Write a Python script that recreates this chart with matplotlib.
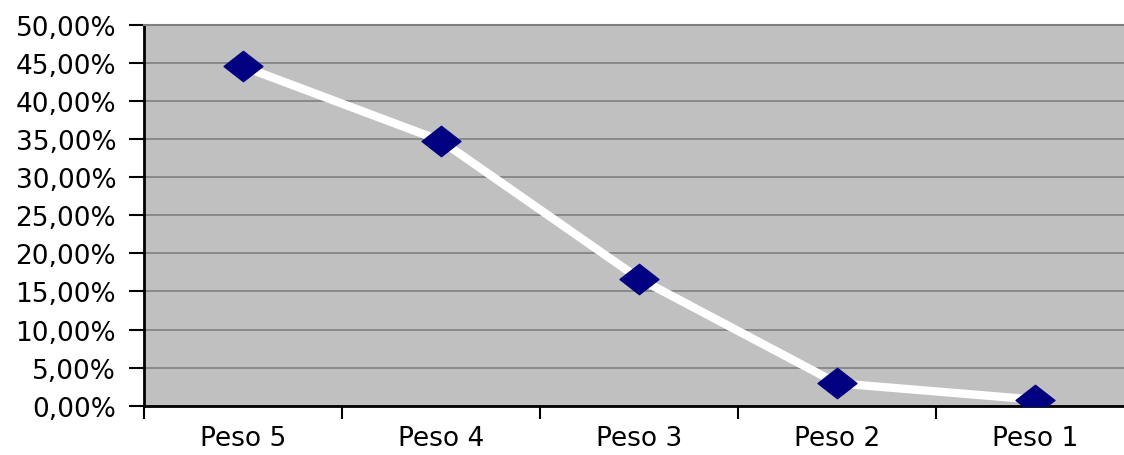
import matplotlib
matplotlib.use("Agg")
import matplotlib.pyplot as plt
from matplotlib.path import Path
from matplotlib.ticker import FixedLocator, FuncFormatter

categories = ["Peso 5", "Peso 4", "Peso 3", "Peso 2", "Peso 1"]
values = [44.55, 34.8, 16.7, 2.95, 0.8]  # percent
y_ticks = [0, 5, 10, 15, 20, 25, 30, 35, 40, 45, 50]

plt.rcParams["font.family"] = ["DejaVu Sans"]

fig = plt.figure(figsize=(11.24, 4.56), dpi=100)
ax = fig.add_axes([144 / 1124, (456 - 406.7) / 456, 990 / 1124, (406.7 - 26) / 456])
ax.set_facecolor("#C0C0C0")

x = list(range(len(categories)))

# flattened diamond marker
diamond = Path([(-1, 0), (0, 0.78), (1, 0), (0, -0.78), (-1, 0)],
               [Path.MOVETO, Path.LINETO, Path.LINETO, Path.LINETO, Path.CLOSEPOLY])

ax.plot(x, values, color="white", linewidth=6, solid_joinstyle="round", zorder=3)
ax.plot(x, values, linestyle="none", marker=diamond, markersize=28,
        markerfacecolor="#000080", markeredgecolor="#000080", zorder=4)

ax.set_xlim(-0.5, len(categories) - 0.5)
ax.set_ylim(0, 50)

ax.yaxis.set_major_locator(FixedLocator(y_ticks))
ax.yaxis.set_major_formatter(FuncFormatter(lambda v, p: f"{v:.2f}".replace(".", ",") + "%"))
ax.grid(axis="y", color="#858585", linewidth=1.3)
ax.set_axisbelow(True)

ax.set_xticks([i + 0.5 for i in range(-1, len(categories))])
ax.set_xticklabels([])
ax.set_xticks(x, minor=True)
ax.set_xticklabels(categories, minor=True)
ax.tick_params(axis="x", which="major", direction="out", length=9, width=1.5, color="black")
ax.tick_params(axis="x", which="minor", length=0, pad=14, labelsize=19)
ax.tick_params(axis="y", direction="out", length=11, width=1.5, color="black", pad=9, labelsize=19)

for side in ("left", "bottom"):
    ax.spines[side].set_color("black")
    ax.spines[side].set_linewidth(2)
ax.spines["top"].set_color("#808080")
ax.spines["top"].set_linewidth(1.5)
ax.spines["right"].set_visible(False)

fig.savefig("out.png", dpi=100)
